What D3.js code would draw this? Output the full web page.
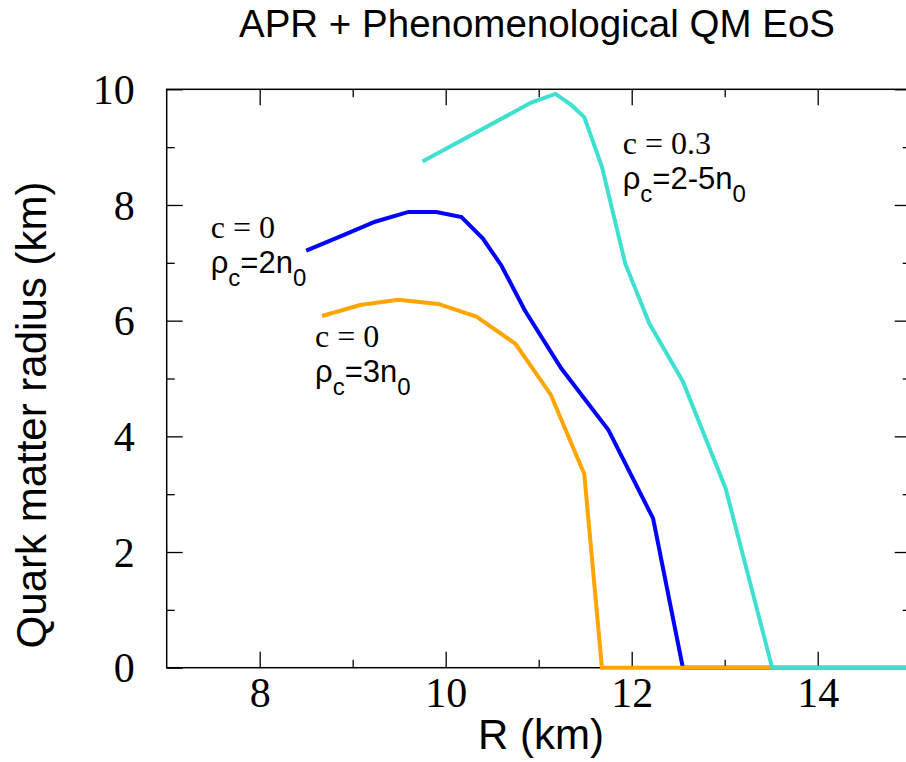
<!DOCTYPE html>
<html>
<head>
<meta charset="utf-8">
<script src="https://cdn.jsdelivr.net/npm/d3@7"></script>
<style>
  body { margin: 0; background: #fff; }
  svg { display: block; overflow: hidden; }
  .tick text { font-family: "Liberation Serif", "Times New Roman", serif; }
</style>
</head>
<body>
<svg id="chart" width="906" height="762"></svg>
<script>
// c = 0, rho_c = 2 n0
var rBlue = [8.50, 8.90, 9.24, 9.60, 9.90, 10.17, 10.40, 10.60, 10.85, 11.24, 11.75, 12.23, 12.55, 15.0];
var qBlue = [7.21, 7.48, 7.71, 7.88, 7.88, 7.79, 7.42, 6.95, 6.18, 5.18, 4.11, 2.58, 0.0, 0.0];
// c = 0, rho_c = 3 n0
var rOrange = [8.67, 9.08, 9.49, 9.92, 10.33, 10.75, 11.13, 11.49, 11.68, 15.0];
var qOrange = [6.08, 6.27, 6.36, 6.29, 6.07, 5.60, 4.72, 3.35, 0.0, 0.0];
// c = 0.3, rho_c = 2-5 n0
var rCyan = [9.75, 10.92, 11.18, 11.35, 11.49, 11.68, 11.93, 12.19, 12.55, 13.01, 13.51, 15.0];
var qCyan = [8.75, 9.77, 9.92, 9.73, 9.52, 8.66, 6.99, 5.95, 4.95, 3.10, 0.0, 0.0];

var xMajor = [8, 10, 12, 14];
var xMinor = [9, 11, 13, 15];
var yMajor = [0, 2, 4, 6, 8, 10];
var yMinor = [1, 3, 5, 7, 9];

var svg = d3.select("#chart");
var x = d3.scaleLinear().domain([7, 15]).range([166.7, 910.7]);
var y = d3.scaleLinear().domain([0, 10]).range([667.7, 89.3]);
var plotW = 910.7 - 166.7, plotH = 667.7 - 89.3;

function addAxis(axis, tx, ty, labels) {
  var g = svg.append("g")
      .attr("transform", "translate(" + tx + "," + ty + ")")
      .call(axis);
  g.select(".domain").remove();
  g.selectAll(".tick line").attr("stroke", "#000").attr("stroke-width", 1.3);
  if (!labels) g.selectAll(".tick text").remove();
  return g;
}

// bottom and top
var xb = addAxis(d3.axisBottom(x).tickValues(xMajor).tickSize(-16).tickPadding(9).tickFormat(d3.format("d")), 0, 667.7, true);
xb.selectAll(".tick text").attr("font-size", 42).attr("fill", "#000");
addAxis(d3.axisBottom(x).tickValues(xMinor).tickSize(-8), 0, 667.7, false);
addAxis(d3.axisTop(x).tickValues(xMajor).tickSize(-16), 0, 89.3, false);
addAxis(d3.axisTop(x).tickValues(xMinor).tickSize(-8), 0, 89.3, false);

// left and right
var yl = addAxis(d3.axisLeft(y).tickValues(yMajor).tickSize(-16).tickPadding(32).tickFormat(d3.format("d")), 166.7, 0, true);
yl.selectAll(".tick text").attr("font-size", 42).attr("fill", "#000").attr("dy", "0.34em");
addAxis(d3.axisLeft(y).tickValues(yMinor).tickSize(-8), 166.7, 0, false);
addAxis(d3.axisRight(y).tickValues(yMajor).tickSize(-16), 910.7, 0, false);
addAxis(d3.axisRight(y).tickValues(yMinor).tickSize(-8), 910.7, 0, false);

// border
svg.append("rect")
    .attr("x", 166.7).attr("y", 89.3)
    .attr("width", plotW).attr("height", plotH)
    .attr("fill", "none").attr("stroke", "#000").attr("stroke-width", 1.5);

var line = d3.line()
    .x(function(d) { return x(d[0]); })
    .y(function(d) { return y(d[1]); });

var series = [
  {r: rBlue, q: qBlue, color: "#0000ff"},
  {r: rOrange, q: qOrange, color: "#ffa500"},
  {r: rCyan, q: qCyan, color: "#40e0d0"}
];

series.forEach(function(s) {
  svg.append("path")
      .datum(d3.zip(s.r, s.q))
      .attr("d", line)
      .attr("fill", "none")
      .attr("stroke", s.color)
      .attr("stroke-width", 4)
      .attr("stroke-linejoin", "miter");
});

// annotations
function label(px, py, cText, rhoMain) {
  svg.append("text")
      .attr("x", px).attr("y", py)
      .attr("font-family", "Liberation Serif, Times New Roman, serif")
      .attr("font-size", 32)
      .text(cText);
  var t = svg.append("text")
      .attr("x", px).attr("y", py + 35)
      .attr("font-family", "Liberation Sans, Arial, sans-serif")
      .attr("font-size", 31);
  t.append("tspan").text("ρ");
  t.append("tspan").attr("dy", 13).attr("font-size", 24).text("c");
  t.append("tspan").attr("dy", -13).text("=" + rhoMain + "n");
  t.append("tspan").attr("dy", 13).attr("font-size", 24).text("0");
}
label(210.7, 238, "c = 0", "2");
label(315, 347, "c = 0", "3");
label(622.7, 154, "c = 0.3", "2-5");

// titles
svg.append("text")
    .attr("x", 537).attr("y", 37)
    .attr("text-anchor", "middle")
    .attr("font-family", "Liberation Sans, Arial, sans-serif")
    .attr("font-size", 38.5)
    .text("APR + Phenomenological QM EoS");

svg.append("text")
    .attr("x", 541).attr("y", 749)
    .attr("text-anchor", "middle")
    .attr("font-family", "Liberation Sans, Arial, sans-serif")
    .attr("font-size", 42)
    .text("R (km)");

svg.append("text")
    .attr("transform", "translate(46,415) rotate(-90)")
    .attr("text-anchor", "middle")
    .attr("font-family", "Liberation Sans, Arial, sans-serif")
    .attr("font-size", 42)
    .text("Quark matter radius (km)");
</script>
</body>
</html>
